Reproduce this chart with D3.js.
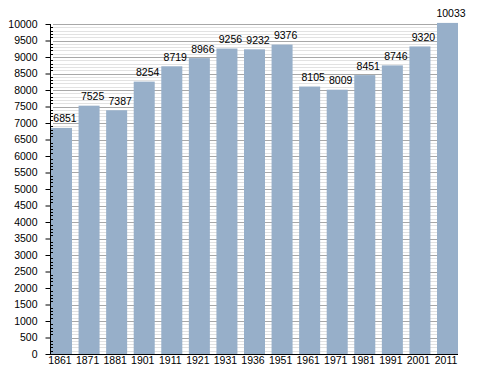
<!DOCTYPE html>
<html>
<head>
<meta charset="UTF-8">
<style>
  body { margin: 0; background: #fff; }
  text { font-family: "Liberation Sans", Arial, sans-serif; fill: #000; }
</style>
<script src="https://cdn.jsdelivr.net/npm/d3@7"></script>
</head>
<body>
<script>
// données
var years = ["1861", "1871", "1881", "1901", "1911", "1921", "1931", "1936", "1951", "1961", "1971", "1981", "1991", "2001", "2011"];
var population = [6851, 7525, 7387, 8254, 8719, 8966, 9256, 9232, 9376, 8105, 8009, 8451, 8746, 9320, 10033];
var yTicks = [0, 500, 1000, 1500, 2000, 2500, 3000, 3500, 4000, 4500, 5000, 5500, 6000, 6500, 7000, 7500, 8000, 8500, 9000, 9500, 10000];

var width = 488, height = 373;
var plotLeft = 50, plotRight = 458, plotTop = 24, plotBottom = 354;

var svg = d3.select("body").append("svg")
    .attr("width", width)
    .attr("height", height);

var x = d3.scaleBand()
    .domain(years)
    .range([plotLeft + 1, plotRight])
    .paddingInner(0.238)
    .paddingOuter(0)
    .align(0);

var y = d3.scaleLinear()
    .domain([0, 10000])
    .range([plotBottom, plotTop]);

// grille secondaire (tous les 100)
var minor = d3.range(100, 10001, 100).filter(function(v) { return v % 500 != 0; });
svg.append("g").selectAll("line")
    .data(minor)
    .enter().append("line")
    .attr("x1", plotLeft + 3).attr("x2", plotRight)
    .attr("y1", function(d) { return Math.round(y(d)) + 0.5; })
    .attr("y2", function(d) { return Math.round(y(d)) + 0.5; })
    .attr("stroke", "#e2e2e2");

// grille principale (tous les 500)
svg.append("g").selectAll("line")
    .data(yTicks.slice(1))
    .enter().append("line")
    .attr("x1", plotLeft + 3).attr("x2", plotRight)
    .attr("y1", function(d) { return Math.round(y(d)) + 0.5; })
    .attr("y2", function(d) { return Math.round(y(d)) + 0.5; })
    .attr("stroke", "#a8a8a8");

// barres
svg.append("g").selectAll("rect")
    .data(population)
    .enter().append("rect")
    .attr("x", function(d, i) { return x(years[i]); })
    .attr("y", function(d) { return y(d); })
    .attr("width", x.bandwidth())
    .attr("height", function(d) { return y(0) - y(d); })
    .attr("fill", "#97afc9");

// valeurs au-dessus des barres
svg.append("g").selectAll("text")
    .data(population)
    .enter().append("text")
    .attr("x", function(d, i) { return x(years[i]) + x.bandwidth() / 2 + 3.5; })
    .attr("y", function(d) { return y(d) - 5.5; })
    .attr("text-anchor", "middle")
    .style("font-size", "10.5px")
    .text(function(d) { return d; });

// petits traits de l'axe y
svg.append("g").selectAll("line")
    .data(minor)
    .enter().append("line")
    .attr("x1", plotLeft).attr("x2", plotLeft + 3)
    .attr("y1", function(d) { return Math.round(y(d)) + 0.5; })
    .attr("y2", function(d) { return Math.round(y(d)) + 0.5; })
    .attr("stroke", "#000");

// axe y
var yAxis = d3.axisLeft(y)
    .tickValues(yTicks)
    .tickSize(5)
    .tickPadding(8)
    .tickFormat(d3.format("d"));

var gy = svg.append("g")
    .attr("transform", "translate(" + (plotLeft + 0.5) + ",0)")
    .call(yAxis);
gy.select(".domain").attr("d", "M0," + plotTop + "V" + plotBottom);
gy.selectAll("text").style("font-size", "10.5px").attr("font-family", null);

// axe x
var xAxis = d3.axisBottom(x).tickSize(0).tickPadding(2);
var gx = svg.append("g")
    .attr("transform", "translate(0," + (plotBottom + 0.5) + ")")
    .call(xAxis);
gx.select(".domain").attr("d", "M" + plotLeft + ",0H" + plotRight);
gx.selectAll("text").style("font-size", "10.5px").attr("font-family", null).attr("dx", -1.5);
</script>
</body>
</html>
